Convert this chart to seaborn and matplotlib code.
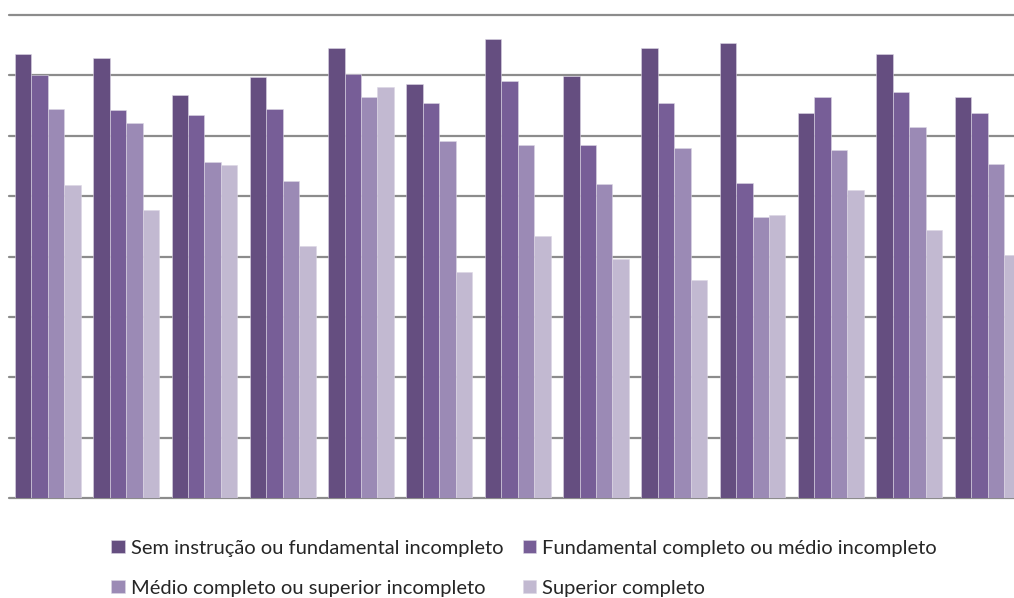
import matplotlib
matplotlib.use("Agg")
import matplotlib.pyplot as plt
import seaborn as sns
import pandas as pd

# Education levels (legend order) and their bar colours
levels = [
    "Sem instrução ou fundamental incompleto",
    "Fundamental completo ou médio incompleto",
    "Médio completo ou superior incompleto",
    "Superior completo",
]
colors = ["#654E80", "#775E97", "#9B8AB5", "#C2B9D1"]

# Thirteen groups along the x axis (no axis labels are shown)
groups = [f"G{i}" for i in range(1, 14)]

# Values per education level, one per group
sem_instrucao = [7.35, 7.28, 6.67, 6.98, 7.45, 6.86, 7.61, 6.99, 7.45, 7.53, 6.38, 7.35, 6.64]
fundamental = [7.01, 6.42, 6.34, 6.44, 7.03, 6.55, 6.91, 5.85, 6.55, 5.22, 6.65, 6.72, 6.38]
medio = [6.44, 6.21, 5.56, 5.25, 6.65, 5.91, 5.85, 5.20, 5.79, 4.65, 5.77, 6.14, 5.54]
superior = [5.18, 4.77, 5.52, 4.17, 6.80, 3.75, 4.34, 3.96, 3.61, 4.68, 5.10, 4.44, 4.03]

series = [sem_instrucao, fundamental, medio, superior]
df = pd.DataFrame(
    [
        {"grupo": g, "nivel": lvl, "valor": v}
        for lvl, vals in zip(levels, series)
        for g, v in zip(groups, vals)
    ]
)

sns.set_theme(style="white")
plt.rcParams["font.family"] = ["Lato", "DejaVu Sans"]

fig = plt.figure(figsize=(10.14, 5.98), dpi=100)
ax = fig.add_axes([0.0085, 0.1672, 1.004, 0.8077])

sns.barplot(
    data=df, x="grupo", y="valor", hue="nivel",
    order=groups, hue_order=levels, palette=colors, saturation=1,
    width=0.84, gap=0, edgecolor="#DCD6E4", linewidth=0.4,
    errorbar=None, ax=ax,
)

ax.set_ylim(0, 8)
ax.set_xlim(-0.5, len(groups) - 0.5)
ax.set_yticks(range(0, 9))
ax.set_axisbelow(True)
ax.yaxis.grid(True, color="#8C8C8C", linewidth=1.6)
ax.xaxis.grid(False)
for gl in ax.get_ygridlines():
    gl.set_clip_on(False)
for side in ax.spines.values():
    side.set_visible(False)
ax.tick_params(left=False, bottom=False, labelleft=False, labelbottom=False)
ax.set_xlabel("")
ax.set_ylabel("")

handles, labels = ax.get_legend_handles_labels()
ax.get_legend().remove()
order = [0, 2, 1, 3]
fig.legend(
    [handles[i] for i in order], [labels[i] for i in order],
    ncol=2, loc="center", bbox_to_anchor=(0.517, 0.05),
    frameon=False, fontsize=14.5, labelcolor="#262626",
    handlelength=0.65, handleheight=0.65, handletextpad=0.3,
    columnspacing=1.0, labelspacing=1.15,
)

fig.savefig("out.png", dpi=100)
